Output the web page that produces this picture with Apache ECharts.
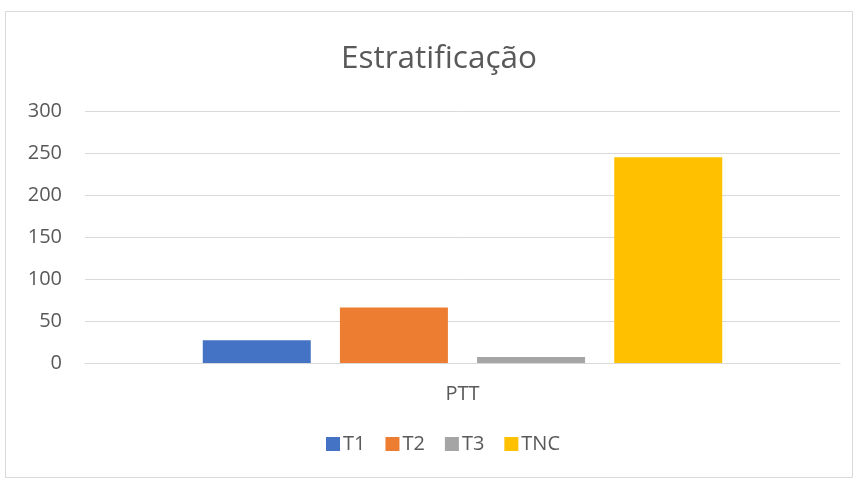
<!DOCTYPE html>
<html>
<head>
<meta charset="utf-8">
<script src="https://cdn.jsdelivr.net/npm/echarts@6/dist/echarts.min.js"></script>
<style>
  html, body { margin: 0; padding: 0; background: #fff; }
  #chart { width: 858px; height: 480px; }
</style>
</head>
<body>
<div id="chart"></div>
<script>
const categories = ['PTT'];
const seriesNames = ['T1', 'T2', 'T3', 'TNC'];
const t1 = [27];
const t2 = [66];
const t3 = [7];
const tnc = [245];
const colors = ['#4472c4', '#ed7d31', '#a5a5a5', '#ffc000'];

const chart = echarts.init(document.getElementById('chart'));
const font = '"Open Sans", sans-serif';

const option = {
  color: colors,
  textStyle: { fontFamily: font },
  title: {
    text: 'Estratificação',
    left: 336,
    top: 38,
    textStyle: { color: '#595959', fontSize: 31.5, fontWeight: 'normal', fontFamily: font }
  },
  graphic: [
    {
      type: 'rect',
      shape: { x: 5.5, y: 11.5, width: 847, height: 466 },
      style: { fill: 'none', stroke: '#d9d9d9', lineWidth: 1 },
      silent: true
    }
  ],
  legend: {
    data: seriesNames,
    bottom: 21,
    left: 321,
    itemWidth: 14,
    itemHeight: 14,
    itemGap: 20,
    icon: 'rect',
    textStyle: { color: '#595959', fontSize: 20, fontFamily: font, padding: [0, 0, 0, -2] }
  },
  grid: {
    left: 85,
    right: 18,
    top: 111,
    bottom: 117
  },
  xAxis: {
    type: 'category',
    data: categories,
    axisLine: { lineStyle: { color: '#d9d9d9' } },
    axisTick: { show: false },
    axisLabel: { color: '#595959', fontSize: 20, margin: 21, fontFamily: font }
  },
  yAxis: {
    type: 'value',
    min: 0,
    max: 300,
    interval: 50,
    axisLine: { show: false },
    axisTick: { show: false },
    axisLabel: { color: '#595959', fontSize: 20, margin: 23, fontFamily: font },
    splitLine: { lineStyle: { color: '#d9d9d9' } }
  },
  series: [
    { name: 'T1', type: 'bar', data: t1, barWidth: 108, barGap: '27%' },
    { name: 'T2', type: 'bar', data: t2, barWidth: 108, barGap: '27%' },
    { name: 'T3', type: 'bar', data: t3, barWidth: 108, barGap: '27%' },
    { name: 'TNC', type: 'bar', data: tnc, barWidth: 108, barGap: '27%' }
  ]
};

chart.setOption(option);
</script>
</body>
</html>
